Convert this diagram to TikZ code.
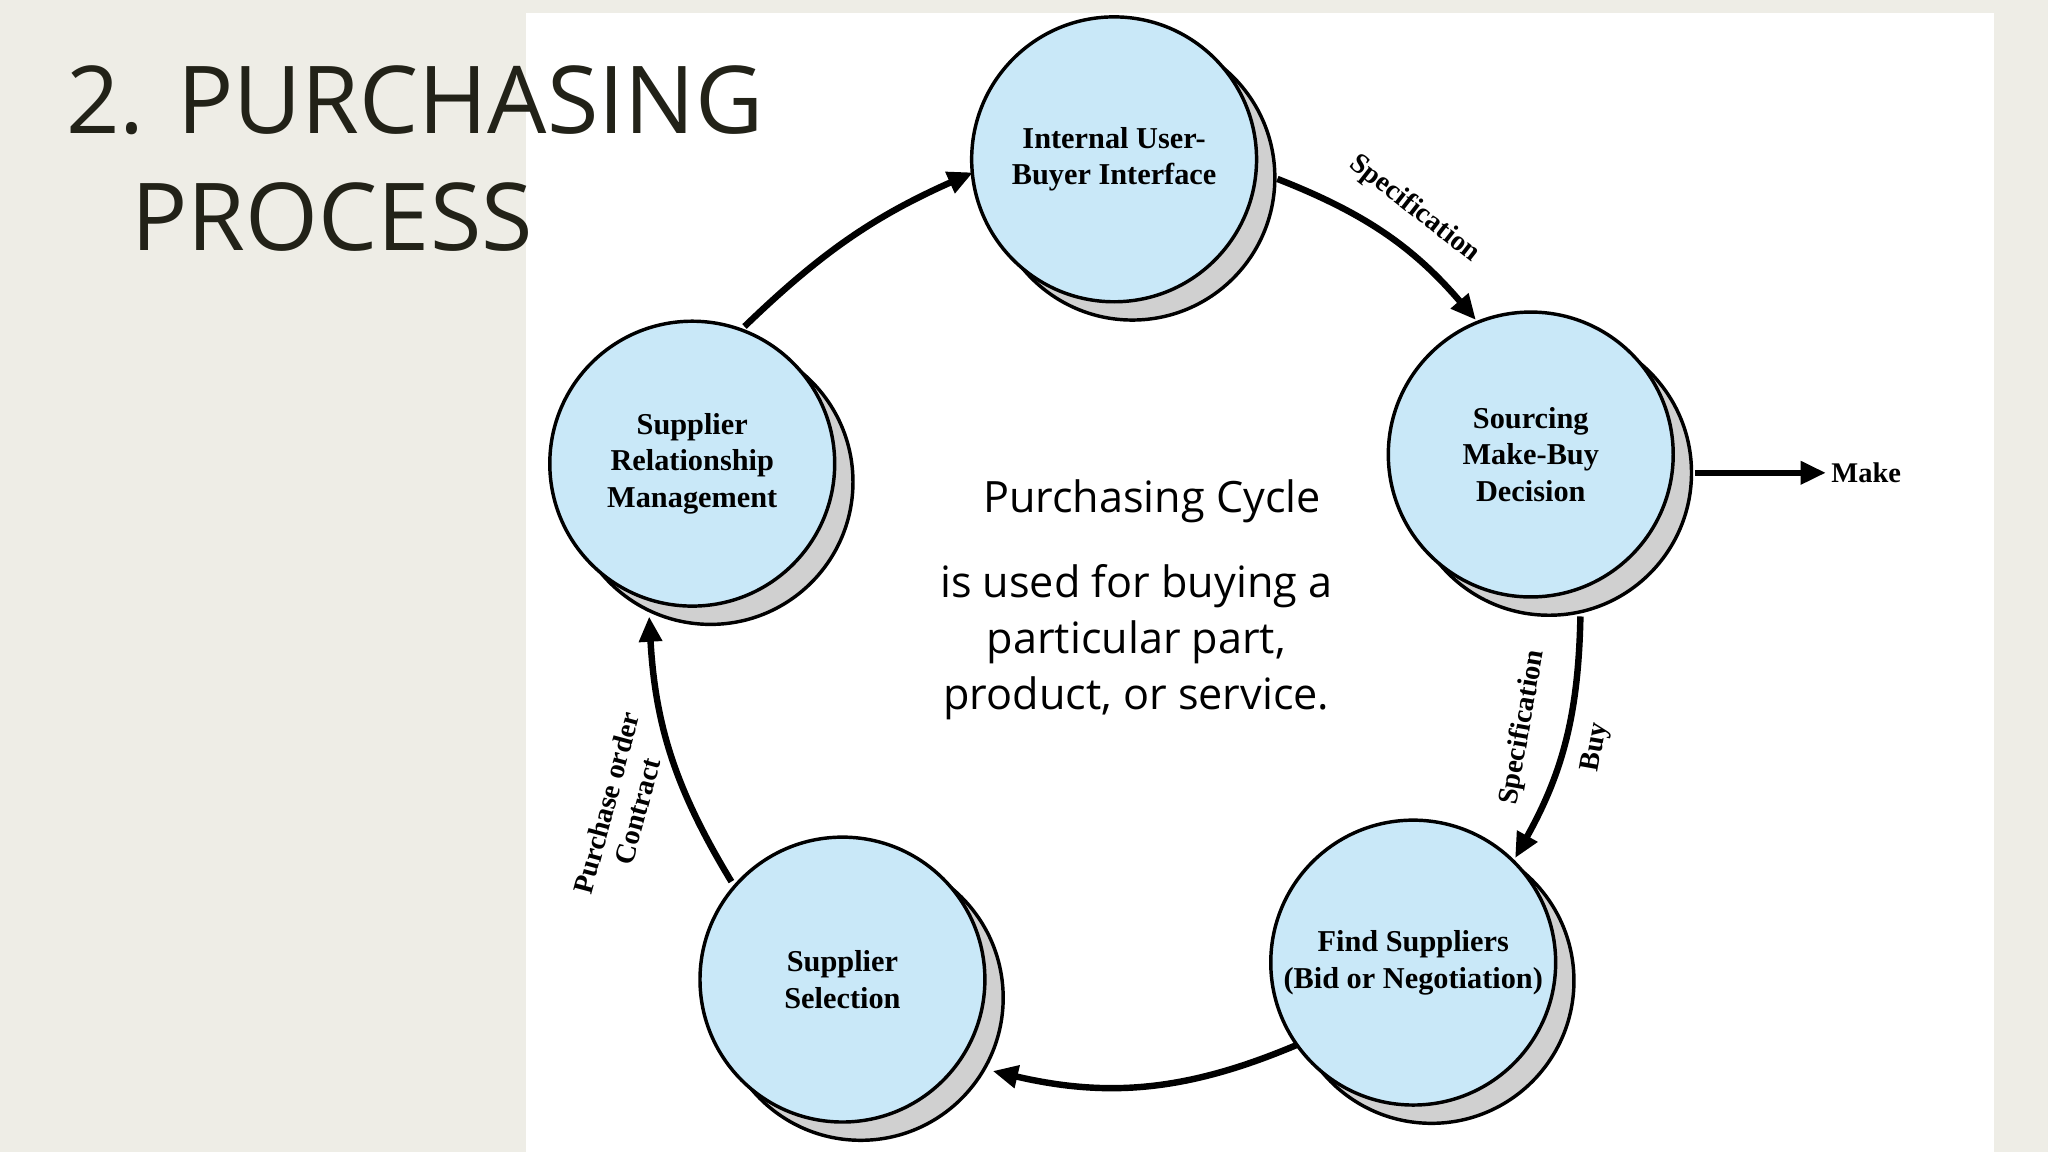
\documentclass[tikz,border=0pt]{standalone}
\usepackage{fontspec}
\setmainfont{Liberation Serif}
\newfontfamily\osans{Open Sans}
\usetikzlibrary{arrows.meta}
\definecolor{bg}{HTML}{EEEDE6}
\definecolor{cfill}{HTML}{C9E8F8}
\definecolor{shad}{HTML}{D0D0D0}
\definecolor{ttl}{HTML}{222218}
\begin{document}
\begin{tikzpicture}[x=0.01cm,y=0.01cm,
  circ/.style={circle,draw=black,line width=0.75pt,fill=cfill,minimum size=2.18cm,inner sep=0pt,align=center,font=\fontsize{6.6}{8}\selectfont\bfseries},
  shd/.style={circle,draw=black,line width=0.75pt,fill=shad,minimum size=2.18cm,inner sep=0pt},
  arr/.style={line width=1.4pt,-{Triangle[length=5.5pt,width=4.8pt]}},
  lab/.style={font=\fontsize{6.2}{7}\selectfont\bfseries,align=center,inner sep=1pt},
  ctext/.style={font=\osans\fontsize{9.4}{12.2}\selectfont,align=center}]
\fill[bg] (0,0) rectangle (1568,882);
\fill[white] (403,0) rectangle (1527,872);
\useasboundingbox (0,0) rectangle (1568,882);
\foreach \n/\x/\y in {si/853/760,ss/1172/534,sf/1082/145,sl/645/132,sr/530/527}
  \node[shd] (\n) at (\x+14,\y-14) {};
\node[circ] (int) at (853,760) {Internal User-\\Buyer Interface};
\node[circ] (src) at (1172,534) {Sourcing\\Make-Buy\\Decision};
\node[circ] (fnd) at (1082,145) {Find Suppliers\\(Bid or Negotiation)};
\node[circ] (sel) at (645,132) {Supplier\\Selection};
\node[circ] (srm) at (530,527) {Supplier\\Relationship\\Management};
\coordinate (a1s) at (978,745); \coordinate (a1e) at (1130,637);
\coordinate (a2s) at (1210,410); \coordinate (a2e) at (1160,225);
\coordinate (a3s) at (993,82);  \coordinate (a3e) at (760,62);
\coordinate (a4s) at (560,207); \coordinate (a4e) at (497,410);
\coordinate (a5s) at (570,632); \coordinate (a5e) at (745,750);
\coordinate (ms) at (1298,520);
\draw[arr] (a1s) to[bend left=14] (a1e);
\draw[arr] (a2s) to[bend left=14] (a2e);
\draw[arr] (a3s) to[bend left=18] (a3e);
\draw[arr] (a4s) to[bend left=14] (a4e);
\draw[arr] (a5s) to[bend left=10] (a5e);
\node[lab,anchor=west] (mk) at (1398,520) {Make};
\draw[arr] (ms) -- (mk.west);
\node[lab,rotate=-38] (l1) at (1083,722) {Specification};
\node[lab,rotate=80] (l2) at (1166,325) {Specification};
\node[lab,rotate=80] (l3) at (1222,310) {Buy};
\node[lab,rotate=75] (l4) at (476,264) {Purchase order\\Contract};
\node[ctext] (pc) at (882,498) {Purchasing Cycle};
\node[ctext] (desc) at (870,390) {is used for buying a\\particular part,\\product, or service.};
\node[anchor=base west,text=ttl,font=\osans\fontsize{20.4}{26}\selectfont,inner sep=0pt] (t1) at (50,780) {2. PURCHASING};
\node[anchor=base west,text=ttl,font=\osans\fontsize{20.4}{26}\selectfont,inner sep=0pt] (t2) at (100,690) {PROCESS};
\end{tikzpicture}
\end{document}
